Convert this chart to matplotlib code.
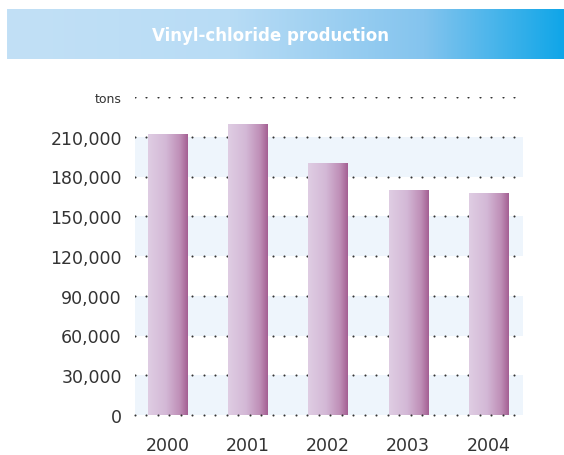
import numpy as np
import matplotlib
matplotlib.use("Agg")
import matplotlib.pyplot as plt
from matplotlib.colors import LinearSegmentedColormap

# production per year (tons)
years = ["2000", "2001", "2002", "2003", "2004"]
production = [211500, 219300, 189600, 169400, 167500]
tick_values = [0, 30000, 60000, 90000, 120000, 150000, 180000, 210000]
unit_label = "tons"
title = "Vinyl-chloride production"

W, H = 564, 456
fig = plt.figure(figsize=(W / 100, H / 100), dpi=100)
fig.patch.set_facecolor("white")

# title banner with horizontal gradient
bax = fig.add_axes([7 / W, 1 - 60 / H, (W - 7) / W, 50 / H])
banner = LinearSegmentedColormap.from_list(
    "banner", [(0, "#c2e0f6"), (0.4, "#b8dcf5"), (0.75, "#84c4ee"), (1, "#10a6e8")])
bax.imshow(np.linspace(0, 1, 256)[None, :], cmap=banner, aspect="auto",
           extent=[0, 1, 0, 1])
bax.set_xlim(0, 1)
bax.set_ylim(0, 1)
bax.axis("off")
fig.text(270 / W, 1 - 36 / H, title, color="white", fontsize=12,
         fontweight="bold", ha="center", va="center")

# plot area
left, right, bottom, top = 135, 523, 416, 98
ax = fig.add_axes([left / W, 1 - bottom / H, (right - left) / W, (bottom - top) / H])
x = np.arange(len(years))

# alternating pale bands
for lo in tick_values[::2]:
    ax.axhspan(lo, lo + 30000, color="#eef5fc", lw=0, zorder=0)

# dotted guide rows
dot_x = np.arange(-0.405, 4.40, 0.1433)
for v in tick_values[1:] + [240000]:
    ax.scatter(dot_x, np.full_like(dot_x, v), s=2.2, color="#333333", lw=0, zorder=1)
ax.scatter(dot_x, np.zeros_like(dot_x), s=2.2, color="#333333", lw=0, zorder=5,
           clip_on=False)

# bars with left-to-right shading
bar_cmap = LinearSegmentedColormap.from_list(
    "bar", [(0, "#dfcde3"), (0.45, "#d3b8d6"), (0.8, "#bf8fb7"), (1, "#a45f93")])
grad = np.linspace(0, 1, 128)[None, :]
w = 0.486
for xi, v in zip(x, production):
    ax.imshow(grad, cmap=bar_cmap, aspect="auto", zorder=3,
              extent=[xi - w / 2, xi + w / 2, 0, v], interpolation="bilinear")
ax.set_xlim(-0.405, 4.43)
ax.set_ylim(0, 240000)

ax.set_yticks(tick_values + [240000])
ax.set_yticklabels([f"{v:,}" for v in tick_values] + [unit_label])
ax.tick_params(axis="y", length=0, pad=9.5, labelsize=12.5, labelcolor="#333333")
ax.get_yticklabels()[-1].set_fontsize(9)
ax.set_xticks(x)
ax.set_xticklabels(years)
ax.tick_params(axis="x", length=0, pad=15, labelsize=12.5, labelcolor="#333333")
for s in ax.spines.values():
    s.set_visible(False)

fig.savefig("out.png", dpi=100)
